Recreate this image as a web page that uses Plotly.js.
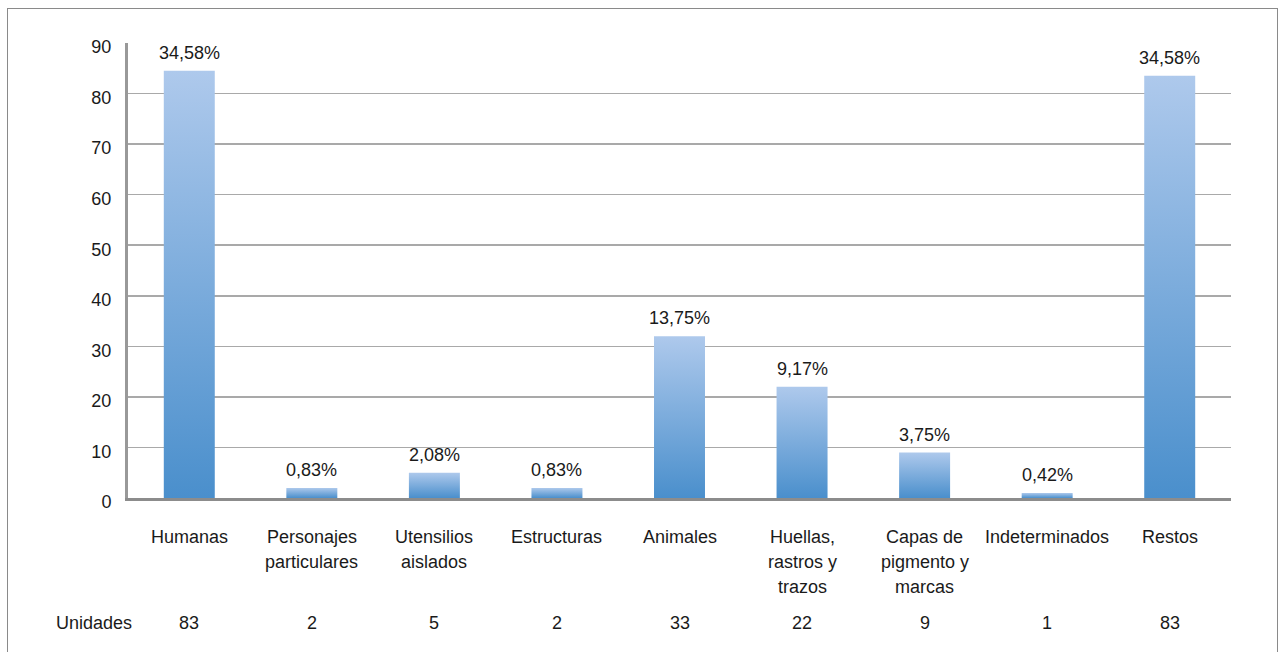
<!DOCTYPE html>
<html><head><meta charset="utf-8">
<script src="https://cdn.plot.ly/plotly-3.0.1.min.js"></script>
<style>
body{margin:0;background:#fff}
#wrap{position:relative;width:1279px;height:652px;overflow:hidden}
#chart{position:absolute;left:0;top:0;width:1279px;height:652px}
#frame{position:absolute;left:7px;top:8px;width:1271px;height:700px;border:1px solid #8a8a8a;box-sizing:border-box;pointer-events:none}
</style>
</head><body>
<div id="wrap"><div id="chart"></div><div id="frame"></div></div>
<script>
const categories = ['Humanas','Personajes\nparticulares','Utensilios\naislados','Estructuras','Animales','Huellas,\nrastros y\ntrazos','Capas de\npigmento y\nmarcas','Indeterminados','Restos'];
const barValues = [84.5, 2, 5, 2, 32, 22, 9, 1, 83.5];
const percentLabels = ['34,58%','0,83%','2,08%','0,83%','13,75%','9,17%','3,75%','0,42%','34,58%'];
const unidades = [83, 2, 5, 2, 33, 22, 9, 1, 83];
const rowLabel = 'Unidades';
const yTicks = [0,10,20,30,40,50,60,70,80,90];

const FONT = '"Liberation Sans", Arial, sans-serif';
const TXT = '#1a1a1a';
const FS = 18;

const data = [{
  type: 'bar',
  x: categories,
  y: barValues,
  marker: {color: '#7aa7da', line: {width: 0}},
  hoverinfo: 'skip'
}];

const annotations = [];
categories.forEach((c, i) => {
  annotations.push({xref:'x', yref:'y', x:c, y:barValues[i], yanchor:'bottom', yshift:6,
    text: percentLabels[i], showarrow:false, font:{family:FONT, size:FS, color:TXT}});
  c.split('\n').forEach((line, j) => {
    annotations.push({xref:'x', yref:'paper', x:c, y:0, yanchor:'middle', yshift:-39 - 25*j,
      text: line, showarrow:false, font:{family:FONT, size:FS, color:TXT}});
  });
  annotations.push({xref:'x', yref:'paper', x:c, y:0, yanchor:'middle', yshift:-125,
    text: String(unidades[i]), showarrow:false, font:{family:FONT, size:FS, color:TXT}});
});
annotations.push({xref:'paper', yref:'paper', x:0.005, y:0, xanchor:'right', yanchor:'middle', yshift:-125,
  text: rowLabel, showarrow:false, font:{family:FONT, size:FS, color:TXT}});

const layout = {
  width: 1279, height: 652,
  margin: {l:128, r:48, t:43, b:154, pad:0},
  paper_bgcolor: 'rgba(0,0,0,0)', plot_bgcolor: '#fff',
  showlegend: false,
  bargap: 0.584,
  font: {family: FONT, size: FS, color: TXT},
  xaxis: {type:'category', showticklabels:false, ticks:'', showgrid:false, zeroline:false,
    showline:true, linecolor:'#8c8c8c', linewidth:3},
  yaxis: {range:[0,90], tickvals:yTicks, ticktext:yTicks.map(String), showgrid:true, gridcolor:'#a9a9a9', gridwidth:1.5,
    zeroline:false, showline:true, linecolor:'#999999', linewidth:3,
    ticks:'outside', ticklen:10, tickcolor:'rgba(0,0,0,0)', ticklabelshift:4,
    tickfont:{family:FONT, size:FS, color:TXT}},
  annotations: annotations
};

Plotly.newPlot('chart', data, layout, {staticPlot:true, displayModeBar:false}).then(gd => {
  const ns = 'http://www.w3.org/2000/svg';
  const svg = gd.querySelector('.main-svg');
  let defs = svg.querySelector('defs');
  if (!defs) { defs = document.createElementNS(ns, 'defs'); svg.insertBefore(defs, svg.firstChild); }
  const lg = document.createElementNS(ns, 'linearGradient');
  lg.setAttribute('id', 'barGrad');
  lg.setAttribute('x1', '0'); lg.setAttribute('y1', '0');
  lg.setAttribute('x2', '0'); lg.setAttribute('y2', '1');
  [['0%', '#aec9ec'], ['100%', '#4a8fcc']].forEach(([o, c]) => {
    const s = document.createElementNS(ns, 'stop');
    s.setAttribute('offset', o); s.setAttribute('stop-color', c);
    lg.appendChild(s);
  });
  defs.appendChild(lg);
  gd.querySelectorAll('.barlayer .point path').forEach(p => { p.style.fill = 'url(#barGrad)'; });
});
</script>
</body></html>
